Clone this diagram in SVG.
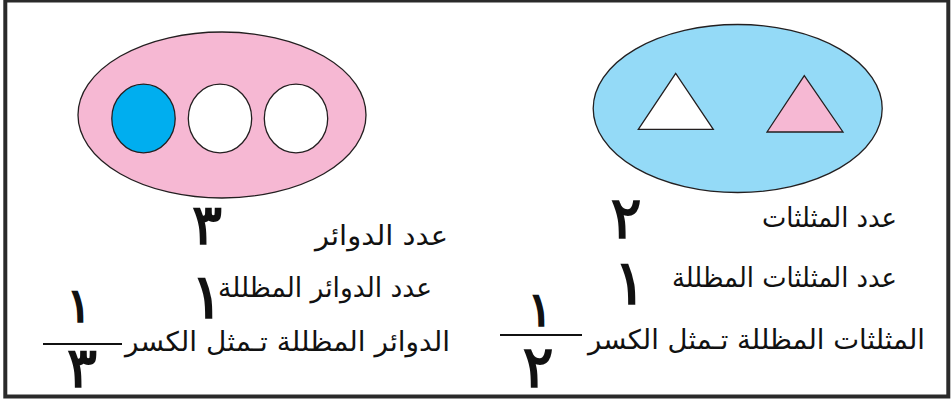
<svg xmlns="http://www.w3.org/2000/svg" width="952" height="402" viewBox="0 0 952 402">
<style>
.shape{stroke:#231f20;stroke-width:1.3}
.t{font-family:"DejaVu Sans",sans-serif;font-size:27px;fill:#111}
.n{font-family:"DejaVu Sans",sans-serif;font-size:56px;fill:#111;stroke:#111;stroke-width:1.7;text-anchor:middle}
.bar{stroke:#111;stroke-width:2}
</style>
<rect x="0" y="0" width="952" height="402" fill="#fff"/>
<rect id="frame" x="5.3" y="0.5" width="943" height="396" fill="none" stroke="#2a2a2a" stroke-width="4"/>
<g id="circles-set">
<ellipse class="shape" cx="222" cy="115" rx="144" ry="83" fill="#f6b8d3"/>
<ellipse class="shape" cx="143.5" cy="118.5" rx="31.7" ry="34.3" fill="#00aeef"/>
<ellipse class="shape" cx="220" cy="118.5" rx="31.7" ry="34.3" fill="#fff"/>
<ellipse class="shape" cx="296" cy="118.5" rx="31.7" ry="34.3" fill="#fff"/>
</g>
<g id="triangles-set">
<ellipse class="shape" cx="737.7" cy="108.5" rx="144.5" ry="84" fill="#94daf7"/>
<polygon class="shape" points="675.7,73.3 638.3,129.3 713.3,129.3" fill="#fff"/>
<polygon class="shape" points="804.3,75.7 767,132 843,132" fill="#f6b8d3"/>
</g>
<g id="left-text">
<text class="t" x="315" y="245" textLength="133" lengthAdjust="spacingAndGlyphs">عدد الدوائر</text>
<text class="n" x="207" y="244">٣</text>
<text class="t" x="218" y="297" textLength="214" lengthAdjust="spacingAndGlyphs">عدد الدوائر المظللة</text>
<text class="n" x="207" y="318" style="font-size:62px">١</text>
<text class="t" x="125" y="351" textLength="325" lengthAdjust="spacingAndGlyphs">الدوائر المظللة تـمثل  الكسر</text>
<text class="n" x="79" y="322" style="font-size:48px">١</text>
<line class="bar" x1="43" y1="344" x2="122" y2="344"/>
<text class="n" x="82" y="387">٣</text>
</g>
<g id="right-text">
<text class="t" x="762" y="227" textLength="135" lengthAdjust="spacingAndGlyphs">عدد المثلثات</text>
<text class="n" x="626" y="238" style="font-size:58px">٢</text>
<text class="t" x="672" y="287" textLength="225" lengthAdjust="spacingAndGlyphs">عدد المثلثات المظللة</text>
<text class="n" x="630" y="304" style="font-size:62px">١</text>
<text class="t" x="588" y="349" textLength="337" lengthAdjust="spacingAndGlyphs">المثلثات المظللة تـمثل  الكسر</text>
<text class="n" x="540" y="326" style="font-size:48px">١</text>
<line class="bar" x1="500" y1="335" x2="582" y2="335"/>
<text class="n" x="538" y="387" style="font-size:58px">٢</text>
</g>
</svg>
